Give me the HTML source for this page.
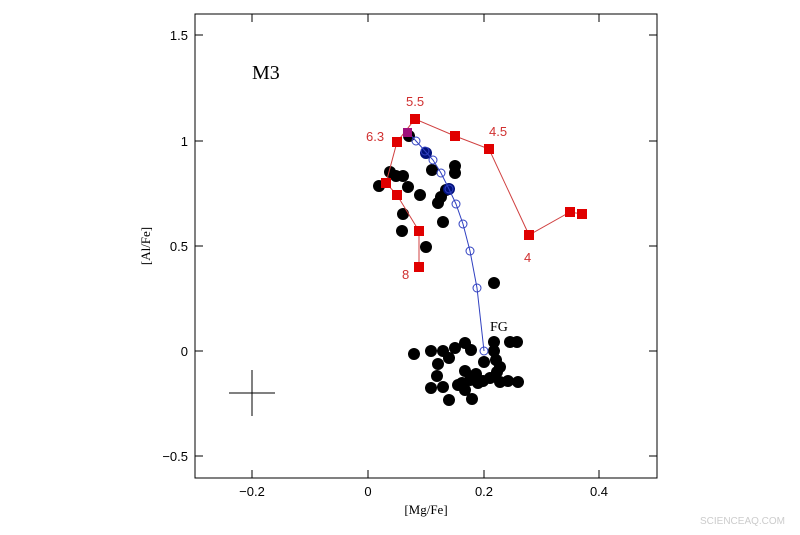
<!DOCTYPE html><html><head><style>body{margin:0;background:#fff}svg text{font-family:"Liberation Serif",serif}</style></head><body>
<svg width="800" height="530" xmlns="http://www.w3.org/2000/svg">
<rect x="195" y="14" width="462" height="464" fill="none" stroke="#000" stroke-width="1"/>
<g stroke="#000" stroke-width="1">
<line x1="252" y1="478" x2="252" y2="470"/><line x1="368" y1="478" x2="368" y2="470"/><line x1="484" y1="478" x2="484" y2="470"/><line x1="599" y1="478" x2="599" y2="470"/>
<line x1="252" y1="14" x2="252" y2="22"/><line x1="368" y1="14" x2="368" y2="22"/><line x1="484" y1="14" x2="484" y2="22"/><line x1="599" y1="14" x2="599" y2="22"/>
<line x1="195" y1="35" x2="203" y2="35"/><line x1="195" y1="141" x2="203" y2="141"/><line x1="195" y1="246" x2="203" y2="246"/><line x1="195" y1="351" x2="203" y2="351"/><line x1="195" y1="456" x2="203" y2="456"/>
<line x1="657" y1="35" x2="649" y2="35"/><line x1="657" y1="141" x2="649" y2="141"/><line x1="657" y1="246" x2="649" y2="246"/><line x1="657" y1="351" x2="649" y2="351"/><line x1="657" y1="456" x2="649" y2="456"/>
<line x1="229" y1="393" x2="275" y2="393"/><line x1="252" y1="370" x2="252" y2="416"/>
</g>
<g font-size="13" text-anchor="middle" style="font-family:'Liberation Sans',sans-serif"><text x="252" y="496" style="font-family:'Liberation Sans',sans-serif">−0.2</text><text x="368" y="496" style="font-family:'Liberation Sans',sans-serif">0</text><text x="484" y="496" style="font-family:'Liberation Sans',sans-serif">0.2</text><text x="599" y="496" style="font-family:'Liberation Sans',sans-serif">0.4</text></g>
<text x="426" y="514" font-size="13" text-anchor="middle">[Mg/Fe]</text>
<g font-size="13" text-anchor="end"><text x="188" y="40" style="font-family:'Liberation Sans',sans-serif">1.5</text><text x="188" y="146" style="font-family:'Liberation Sans',sans-serif">1</text><text x="188" y="251" style="font-family:'Liberation Sans',sans-serif">0.5</text><text x="188" y="356" style="font-family:'Liberation Sans',sans-serif">0</text><text x="188" y="461" style="font-family:'Liberation Sans',sans-serif">−0.5</text></g>
<text x="0" y="0" font-size="13" transform="translate(150,246) rotate(-90)" text-anchor="middle">[Al/Fe]</text>
<text x="252" y="79" font-size="20">M3</text>
<text x="490" y="331" font-size="14">FG</text>
<g fill="#000">
<circle cx="379" cy="186" r="6"/><circle cx="390" cy="172" r="6"/><circle cx="396" cy="176" r="6"/><circle cx="403" cy="176" r="6"/><circle cx="408" cy="187" r="6"/><circle cx="420" cy="195" r="6"/><circle cx="403" cy="214" r="6"/><circle cx="402" cy="231" r="6"/><circle cx="426" cy="247" r="6"/><circle cx="443" cy="222" r="6"/><circle cx="438" cy="203" r="6"/><circle cx="446" cy="190" r="6"/><circle cx="441" cy="197" r="6"/><circle cx="455" cy="166" r="6"/><circle cx="455" cy="173" r="6"/><circle cx="432" cy="170" r="6"/><circle cx="409" cy="136" r="6"/><circle cx="494" cy="283" r="6"/>
<circle cx="414" cy="354" r="6"/><circle cx="431" cy="351" r="6"/><circle cx="443" cy="351" r="6"/><circle cx="455" cy="348" r="6"/><circle cx="465" cy="343" r="6"/><circle cx="471" cy="350" r="6"/><circle cx="494" cy="342" r="6"/><circle cx="494" cy="351" r="6"/><circle cx="510" cy="342" r="6"/><circle cx="517" cy="342" r="6"/><circle cx="438" cy="364" r="6"/><circle cx="449" cy="358" r="6"/><circle cx="484" cy="362" r="6"/><circle cx="496" cy="360" r="6"/><circle cx="500" cy="367" r="6"/><circle cx="437" cy="376" r="6"/><circle cx="465" cy="371" r="6"/><circle cx="476" cy="374" r="6"/><circle cx="490" cy="378" r="6"/><circle cx="497" cy="372" r="6"/><circle cx="462" cy="383" r="6"/><circle cx="470" cy="380" r="6"/><circle cx="478" cy="383" r="6"/><circle cx="465" cy="390" r="6"/><circle cx="483" cy="381" r="6"/><circle cx="500" cy="382" r="6"/><circle cx="508" cy="381" r="6"/><circle cx="518" cy="382" r="6"/><circle cx="431" cy="388" r="6"/><circle cx="443" cy="387" r="6"/><circle cx="449" cy="400" r="6"/><circle cx="472" cy="399" r="6"/><circle cx="458" cy="385" r="6"/>
</g>
<g fill="#00107a"><circle cx="426" cy="153" r="6"/><circle cx="449" cy="189" r="6"/></g>
<polyline points="484,351 477,288 470,251 463,224 456,204 449,189 441,173 433,160 425,151 416,141 408,132" fill="none" stroke="#3040c0" stroke-width="1"/>
<g fill="none" stroke="#3040c0" stroke-width="1"><circle cx="484" cy="351" r="4"/><circle cx="477" cy="288" r="4"/><circle cx="470" cy="251" r="4"/><circle cx="463" cy="224" r="4"/><circle cx="456" cy="204" r="4"/><circle cx="449" cy="189" r="4"/><circle cx="441" cy="173" r="4"/><circle cx="433" cy="160" r="4"/><circle cx="425" cy="151" r="4"/><circle cx="416" cy="141" r="4"/></g>
<polyline points="419,267 419,231 397,195 386,183 397,142 415,119 455,136 489,149 529,235 570,212 582,214" fill="none" stroke="#d04040" stroke-width="1"/>
<g fill="#e00000">
<rect x="414" y="262" width="10" height="10"/><rect x="414" y="226" width="10" height="10"/><rect x="392" y="190" width="10" height="10"/><rect x="381" y="178" width="10" height="10"/><rect x="392" y="137" width="10" height="10"/><rect x="410" y="114" width="10" height="10"/><rect x="450" y="131" width="10" height="10"/><rect x="484" y="144" width="10" height="10"/><rect x="524" y="230" width="10" height="10"/><rect x="565" y="207" width="10" height="10"/><rect x="577" y="209" width="10" height="10"/></g>
<rect x="403" y="128" width="9" height="9" fill="#a0107a"/>
<g fill="#d03030" font-size="13"><text x="406" y="106" style="font-family:'Liberation Sans',sans-serif">5.5</text><text x="366" y="141" style="font-family:'Liberation Sans',sans-serif">6.3</text><text x="489" y="136" style="font-family:'Liberation Sans',sans-serif">4.5</text><text x="524" y="262" style="font-family:'Liberation Sans',sans-serif">4</text><text x="402" y="279" style="font-family:'Liberation Sans',sans-serif">8</text></g>
<text x="700" y="524" font-size="10" fill="#ccc" style="font-family:'Liberation Sans',sans-serif">SCIENCEAQ.COM</text>
</svg></body></html>
